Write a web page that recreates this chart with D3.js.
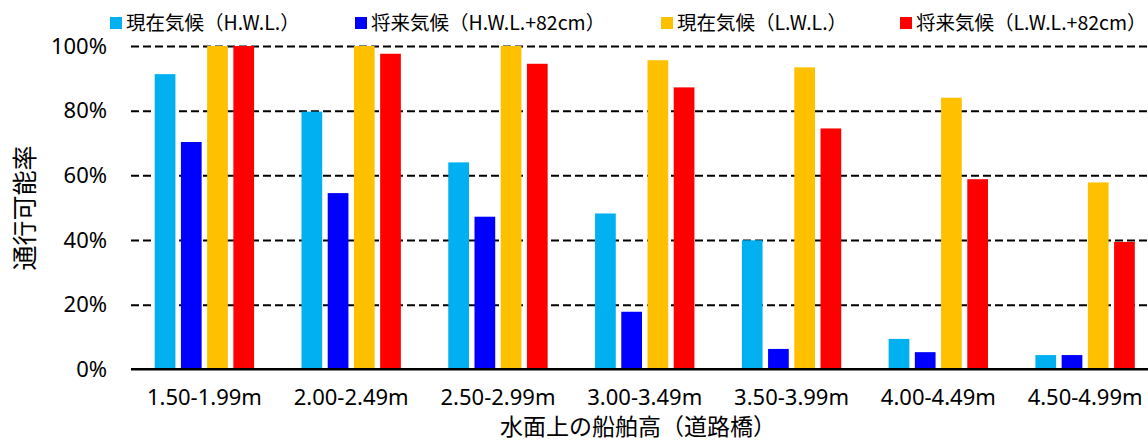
<!DOCTYPE html>
<html>
<head>
<meta charset="utf-8">
<script src="https://cdn.jsdelivr.net/npm/d3@7"></script>
<style>
  html, body { margin: 0; padding: 0; background: #fff; overflow: hidden; }
  svg { display: block; }
</style>
</head>
<body>
<svg id="chart" width="1148" height="441"></svg>
<script>
// Ship height classes above water (road bridges)
const categories = ["1.50-1.99m", "2.00-2.49m", "2.50-2.99m", "3.00-3.49m", "3.50-3.99m", "4.00-4.49m", "4.50-4.99m"];

// Passability rate (%) for each scenario
const seriesNames = ["現在気候（H.W.L.）", "将来気候（H.W.L.+82cm）", "現在気候（L.W.L.）", "将来気候（L.W.L.+82cm）"];
const currentHWL = [91.3, 79.7, 64.0, 48.2, 39.9, 9.4, 4.4];
const futureHWL  = [70.3, 54.5, 47.2, 17.8, 6.3, 5.3, 4.4];
const currentLWL = [100, 100, 100, 95.6, 93.4, 84.0, 57.8];
const futureLWL  = [100, 97.6, 94.5, 87.2, 74.5, 58.8, 39.4];
const seriesColors = ["#00B0F0", "#0000FF", "#FFC000", "#FF0000"];

const yTicks = [0, 20, 40, 60, 80, 100];
const xTitle = "水面上の船舶高（道路橋）";
const yTitle = "通行可能率";

const seriesValues = [currentHWL, futureHWL, currentLWL, futureLWL];
const rows = categories.map((c, i) => ({
  category: c,
  values: seriesNames.map((s, j) => ({ series: s, value: seriesValues[j][i], color: seriesColors[j] }))
}));

const svg = d3.select("#chart");
const latin = "'Noto Sans', sans-serif";
const cjk = "'Noto Sans CJK JP', 'Noto Sans', sans-serif";

const plot = { left: 131, right: 1158.5, top: 46, bottom: 369.3 };

const x0 = d3.scaleBand()
  .domain(categories)
  .range([plot.left, plot.right])
  .paddingInner(0.323)
  .paddingOuter(0.1615);

const x1 = d3.scaleBand()
  .domain(seriesNames)
  .range([0, x0.bandwidth()])
  .paddingInner(0.21);

const y = d3.scaleLinear().domain([0, 100]).range([plot.bottom, plot.top]);

// Dashed horizontal gridlines
const grid = svg.append("g")
  .attr("transform", `translate(${plot.left},0)`)
  .call(d3.axisLeft(y).tickValues(yTicks.filter(t => t > 0)).tickSize(-(plot.right - plot.left)).tickFormat(""));
grid.select(".domain").remove();
grid.selectAll(".tick line")
  .attr("stroke", "#000")
  .attr("stroke-width", 2)
  .attr("stroke-dasharray", "8,4");

// Bars
const groups = svg.append("g")
  .selectAll("g")
  .data(rows)
  .join("g")
  .attr("transform", d => `translate(${x0(d.category)},0)`);

groups.selectAll("rect")
  .data(d => d.values)
  .join("rect")
  .attr("x", d => x1(d.series))
  .attr("y", d => y(d.value))
  .attr("width", x1.bandwidth())
  .attr("height", d => y(0) - y(d.value))
  .attr("fill", d => d.color);

// Baseline
svg.append("line")
  .attr("x1", plot.left).attr("x2", plot.right)
  .attr("y1", y(0)).attr("y2", y(0))
  .attr("stroke", "#000").attr("stroke-width", 2.5);

// Y axis labels
const yAxis = svg.append("g")
  .attr("transform", `translate(${plot.left - 24},0)`)
  .call(d3.axisLeft(y).tickValues(yTicks).tickSize(0).tickPadding(0).tickFormat(d => d + "%"));
yAxis.select(".domain").remove();
yAxis.selectAll("text")
  .attr("font-family", latin)
  .attr("font-size", 22)
  .attr("fill", "#000");

// X axis labels
const xAxis = svg.append("g")
  .attr("transform", `translate(0,${plot.bottom})`)
  .call(d3.axisBottom(x0.copy().paddingInner(0).paddingOuter(0)).tickSize(0).tickPadding(20));
xAxis.select(".domain").remove();
xAxis.selectAll("text")
  .attr("font-family", latin)
  .attr("font-size", 22)
  .attr("fill", "#000");

// Axis titles
svg.append("text")
  .attr("x", 638).attr("y", 435)
  .attr("text-anchor", "middle")
  .attr("font-family", cjk)
  .attr("font-size", 23)
  .attr("fill", "#000")
  .text(xTitle);

svg.append("text")
  .attr("transform", `translate(34,208) rotate(-90)`)
  .attr("text-anchor", "middle")
  .attr("font-family", cjk)
  .attr("font-size", 25)
  .attr("fill", "#000")
  .text(yTitle);

// Legend
const legendX = [110, 355, 661, 900];
const legend = svg.append("g")
  .selectAll("g")
  .data(seriesNames)
  .join("g")
  .attr("transform", (d, i) => `translate(${legendX[i]},0)`);

legend.append("rect")
  .attr("x", 0).attr("y", 17)
  .attr("width", 12).attr("height", 12)
  .attr("fill", (d, i) => seriesColors[i]);

legend.append("text")
  .attr("x", 16).attr("y", 30)
  .attr("font-family", cjk)
  .attr("font-size", 19.5)
  .attr("fill", "#000")
  .text(d => d);
</script>
</body>
</html>
